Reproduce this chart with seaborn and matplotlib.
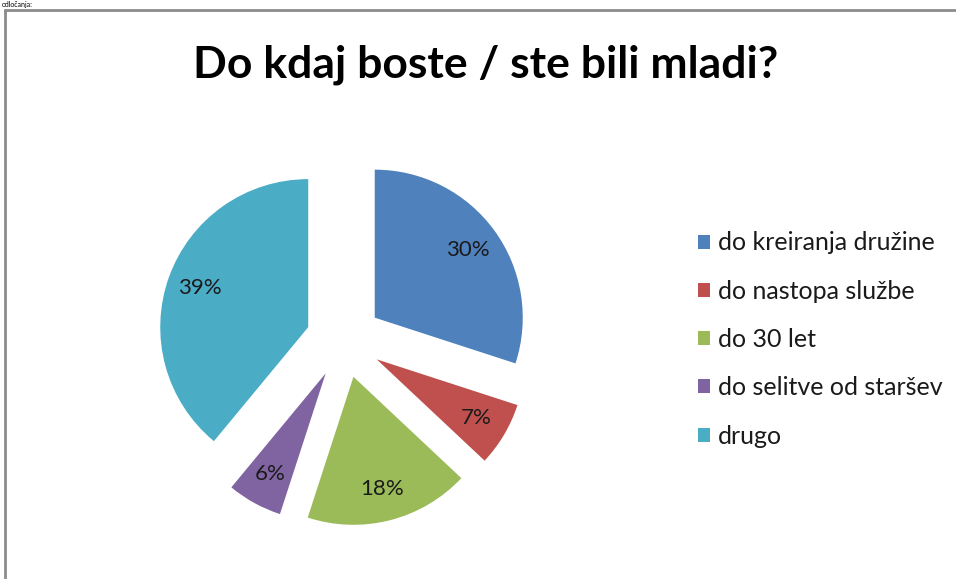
import matplotlib
matplotlib.use("Agg")
import matplotlib.pyplot as plt
import seaborn as sns
from matplotlib.lines import Line2D
from matplotlib.patches import Patch

sns.set_theme(style="white")
plt.rcParams['font.family'] = ['Lato', 'DejaVu Sans']

# Data
categories = ["do kreiranja družine", "do nastopa službe", "do 30 let",
              "do selitve od staršev", "drugo"]
values = [30, 7, 18, 6, 39]
title = "Do kdaj boste / ste bili mladi?"
colors = ["#4F81BD", "#C0504D", "#9BBB59", "#8064A2", "#4BACC6"]

W, H = 956, 579
fig = plt.figure(figsize=(W / 100, H / 100), dpi=100)
fig.patch.set_facecolor("white")

# pie axes: centre at (344, 340) px, radius 148 px (1 data unit = 1 px)
cx, cy, half = 344, 340, 200
ax = fig.add_axes([(cx - half) / W, (H - cy - half) / H, 2 * half / W, 2 * half / H])
R = 148
wedges, texts, autotexts = ax.pie(
    values, colors=colors, startangle=90, counterclock=False,
    radius=R, explode=[38] * len(values),
    autopct=lambda p: f"{p:.0f}%", pctdistance=0.78,
    wedgeprops=dict(linewidth=0),
    textprops=dict(fontsize=16, color="#1a1a1a"))
ax.set_xlim(-half, half)
ax.set_ylim(-half, half)
ax.set_aspect("equal")
ax.axis("off")

# title
fig.text(486 / W, 1 - 65 / H, title, ha="center", va="center",
         fontsize=32, fontweight="bold", color="black")

# legend
handles = [Patch(facecolor=c, edgecolor="none") for c in colors]
leg = fig.legend(handles, categories, loc="upper left",
                 bbox_to_anchor=(685 / W, 1 - 219 / H), frameon=False,
                 fontsize=18, handlelength=0.48, handleheight=0.48,
                 handletextpad=0.32, labelspacing=1.01, borderpad=0)
for t in leg.get_texts():
    t.set_color("#1a1a1a")

# outer frame (partially visible chart border)
fig.add_artist(Line2D([5 / W, 5 / W], [0, 1 - 10 / H], color="#8c8c8c", lw=2,
                      transform=fig.transFigure))
fig.add_artist(Line2D([5 / W, 1], [1 - 10 / H, 1 - 10 / H], color="#8c8c8c", lw=2,
                      transform=fig.transFigure))

# small text above the frame
fig.text(2 / W, 1 - 7 / H, "odločanja:", ha="left", va="baseline",
         fontsize=5, color="black")

fig.savefig("out.png", dpi=100)
